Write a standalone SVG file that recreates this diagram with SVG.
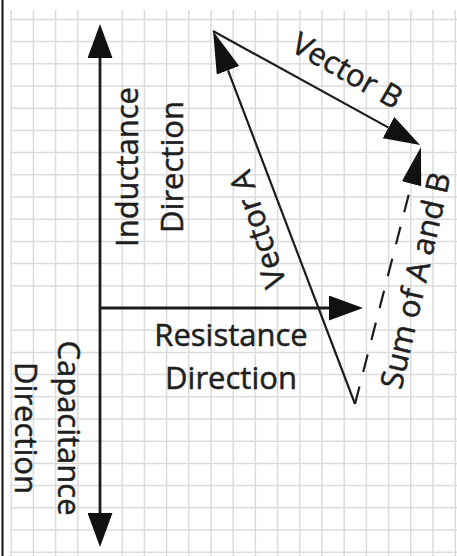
<svg xmlns="http://www.w3.org/2000/svg" width="457" height="556" viewBox="0 0 457 556">
  <style>
    .grid { stroke: #dcdcdc; stroke-width: 1.5; fill: none; }
    .axis { stroke: #1c1c1c; stroke-width: 2.8; fill: none; }
    .vec { stroke: #1c1c1c; stroke-width: 2.2; fill: none; }
    .dash { stroke-dasharray: 18 15; }
    .lbl { font-family: "Open Sans", "Liberation Sans", sans-serif; font-size: 31px; fill: #1f1f1f; stroke: #1f1f1f; stroke-width: 0.5; text-anchor: middle; }
  </style>
  <defs>
    <marker id="arrAxis" markerUnits="userSpaceOnUse" markerWidth="34" markerHeight="25" viewBox="0 0 34 25" refX="0" refY="12.5" orient="auto-start-reverse">
      <path d="M0,0 L34,12.5 L0,25 Z" fill="#111"/>
    </marker>
    <marker id="arrA" markerUnits="userSpaceOnUse" markerWidth="42" markerHeight="24" viewBox="0 0 42 24" refX="0" refY="12" orient="auto">
      <path d="M0,0 L42,12 L0,24 Z" fill="#111"/>
    </marker>
    <marker id="arrB" markerUnits="userSpaceOnUse" markerWidth="36" markerHeight="24" viewBox="0 0 36 24" refX="0" refY="12" orient="auto">
      <path d="M0,0 L36,12 L0,24 Z" fill="#111"/>
    </marker>
    <marker id="arrSum" markerUnits="userSpaceOnUse" markerWidth="38" markerHeight="20" viewBox="0 0 38 20" refX="0" refY="10" orient="auto">
      <path d="M0,0 L38,10 L0,20 Z" fill="#111"/>
    </marker>
  </defs>
  <rect width="457" height="556" fill="#fff"/>
  <g id="grid" class="grid">
    <path d="M11.2,10V556 M33.4,10V556 M55.6,10V556 M77.8,10V556 M122.2,10V556 M144.4,10V556 M166.6,10V556 M188.8,10V556 M211,10V556 M233.2,10V556 M255.4,10V556 M277.6,10V556 M299.8,10V556 M322,10V556 M344.2,10V556 M366.4,10V556 M388.6,10V556 M410.8,10V556 M433,10V556 M455.2,10V556"/>
    <path d="M10,19.4H457 M10,41.6H457 M10,63.8H457 M10,86H457 M10,108.2H457 M10,130.4H457 M10,152.6H457 M10,174.8H457 M10,197H457 M10,219.2H457 M10,241.4H457 M10,263.6H457 M10,285.8H457 M10,330.2H457 M10,352.4H457 M10,374.6H457 M10,396.8H457 M10,419H457 M10,441.2H457 M10,463.4H457 M10,485.6H457 M10,507.8H457 M10,530H457 M10,552.2H457"/>
  </g>
  <line x1="2.5" y1="0" x2="2.5" y2="556" stroke="#111" stroke-width="2"/>
  <g id="connectors">
    <path id="axis-vertical" class="axis" d="M100,58 L100,513" marker-start="url(#arrAxis)" marker-end="url(#arrAxis)"/>
    <path id="axis-horizontal" class="axis" d="M100,308 L329,308" marker-end="url(#arrAxis)"/>
    <path id="vector-a" class="vec" d="M355,404 L228,70.3" marker-end="url(#arrA)"/>
    <path id="vector-b" class="vec" d="M213,31 L388.5,127.6" marker-end="url(#arrB)"/>
    <path id="vector-sum" class="vec dash" d="M355,404 L411.5,183.8" marker-end="url(#arrSum)"/>
  </g>
  <g id="label-inductance">
    <text class="lbl" transform="translate(138,167) rotate(-90)">Inductance</text>
    <text class="lbl" transform="translate(183,167) rotate(-90)">Direction</text>
  </g>
  <g id="label-resistance">
    <text class="lbl" x="231" y="346">Resistance</text>
    <text class="lbl" x="231" y="389">Direction</text>
  </g>
  <g id="label-capacitance">
    <text class="lbl" transform="translate(58,428) rotate(90)">Capacitance</text>
    <text class="lbl" transform="translate(15,428) rotate(90)">Direction</text>
  </g>
  <g id="label-vector-a">
    <text class="lbl" transform="translate(268,226) rotate(-108)">Vector A</text>
  </g>
  <g id="label-vector-b">
    <text class="lbl" transform="translate(342,80) rotate(29.5)">Vector B</text>
  </g>
  <g id="label-sum">
    <text class="lbl" transform="translate(426,283) rotate(-77)">Sum of A and B</text>
  </g>
</svg>
